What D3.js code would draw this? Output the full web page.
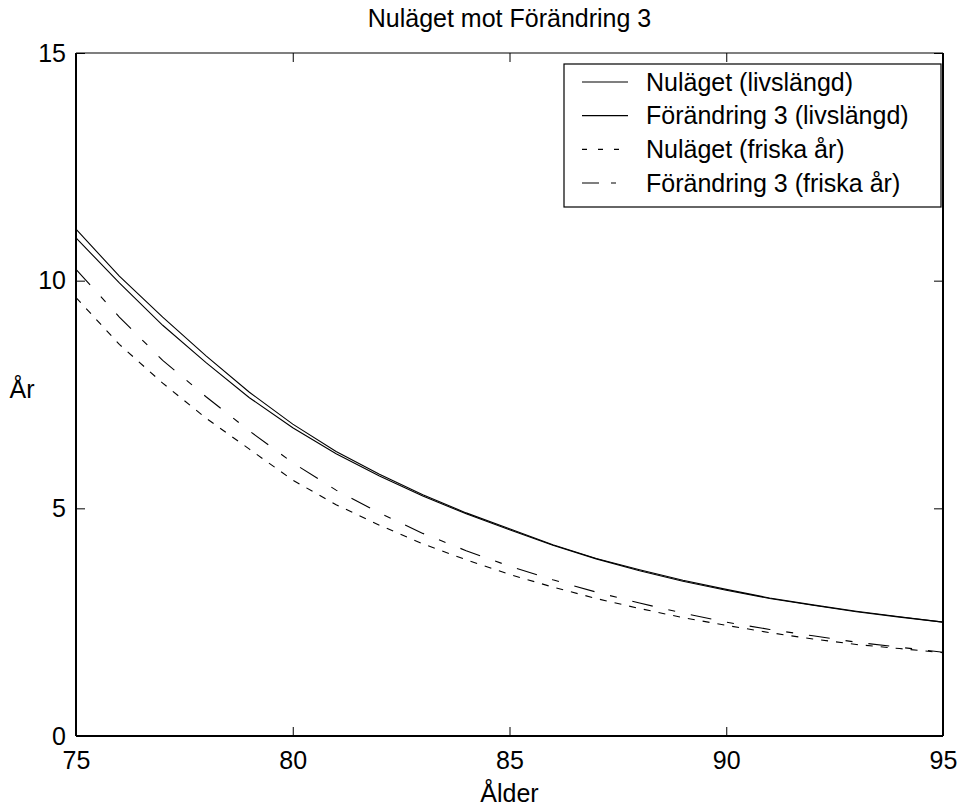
<!DOCTYPE html>
<html>
<head>
<meta charset="utf-8">
<script src="https://cdn.jsdelivr.net/npm/d3@7"></script>
<style>
  html, body { margin: 0; padding: 0; background: #fff; }
  svg { display: block; }
  text { font-family: "Liberation Sans", Arial, Helvetica, sans-serif; fill: #000; }
</style>
</head>
<body>
<div id="chart"></div>
<script>
const ages = [75,76,77,78,79,80,81,82,83,84,85,86,87,88,89,90,91,92,93,94,95];
const nulagetLiv = [11.13,10.10,9.20,8.35,7.55,6.85,6.25,5.75,5.30,4.90,4.55,4.20,3.90,3.65,3.42,3.22,3.03,2.88,2.74,2.62,2.50];
const forandringLiv = [10.94,9.95,9.02,8.20,7.43,6.77,6.20,5.71,5.27,4.88,4.53,4.19,3.89,3.63,3.40,3.20,3.02,2.87,2.73,2.61,2.50];
const nulagetFriska = [9.63,8.60,7.75,6.98,6.30,5.62,5.08,4.63,4.22,3.87,3.55,3.27,3.02,2.80,2.60,2.43,2.27,2.13,2.01,1.92,1.83];
const forandringFriska = [10.25,9.20,8.25,7.45,6.70,6.00,5.40,4.90,4.45,4.07,3.73,3.43,3.16,2.92,2.70,2.50,2.34,2.20,2.06,1.95,1.84];
const seriesNames = ["Nuläget (livslängd)","Förändring 3 (livslängd)","Nuläget (friska år)","Förändring 3 (friska år)"];
const xTicks = [75,80,85,90,95];
const yTicks = [0,5,10,15];
const titleText = "Nuläget mot Förändring 3";
const xLabel = "Ålder";
const yLabel = "År";

const W = 962, H = 807;
const m = {left: 76, right: 19, top: 53, bottom: 71};
const iw = W - m.left - m.right, ih = H - m.top - m.bottom;
const FS = 25;

const svg = d3.select("#chart").append("svg").attr("width", W).attr("height", H);
const g = svg.append("g").attr("transform", `translate(${m.left},${m.top})`);

const x = d3.scaleLinear().domain([75,95]).range([0, iw]);
const y = d3.scaleLinear().domain([0,15]).range([ih, 0]);

const dashes = [null, null, "7,8", "21,16,7,16"];
const data = [nulagetLiv, forandringLiv, nulagetFriska, forandringFriska];

const line = d3.line().x((d,i) => x(ages[i])).y(d => y(d));
data.forEach((s, k) => {
  g.append("path").datum(s).attr("d", line)
    .attr("fill", "none").attr("stroke", "#000").attr("stroke-width", 1.1)
    .attr("stroke-dasharray", dashes[k]);
});

// axes (inward ticks, box)
const tl = 9;
const ax = d3.axisBottom(x).tickValues(xTicks).tickSize(-tl).tickPadding(tl + 6).tickFormat(d3.format("d"));
const axT = d3.axisTop(x).tickValues(xTicks).tickSize(-tl).tickFormat("");
const ay = d3.axisLeft(y).tickValues(yTicks).tickSize(-tl).tickPadding(tl + 1).tickFormat(d3.format("d"));
const ayR = d3.axisRight(y).tickValues(yTicks).tickSize(-tl).tickFormat("");

function style(sel, sw) {
  sel.selectAll(".domain").attr("stroke", "#000").attr("stroke-width", sw);
  sel.selectAll(".tick line").attr("stroke", "#000").attr("stroke-width", 1);
  sel.selectAll(".tick text").attr("font-size", FS).attr("font-family", "Liberation Sans, Arial, sans-serif").attr("fill", "#000");
}
const gx = g.append("g").attr("transform", `translate(0,${ih})`).call(ax); style(gx, 2);
gx.selectAll(".domain").attr("d", `M0,0H${iw}`);
const gxt = g.append("g").call(axT); style(gxt, 1.2);
gxt.selectAll(".domain").attr("d", `M0,0H${iw}`);
const gy = g.append("g").call(ay); style(gy, 2);
gy.selectAll(".domain").attr("d", `M0,0V${ih}`);
const gyr = g.append("g").attr("transform", `translate(${iw},0)`).call(ayR); style(gyr, 2);
gyr.selectAll(".domain").attr("d", `M0,0V${ih}`);
gx.selectAll(".tick text").attr("dy", "0.71em");

// title and labels
svg.append("text").attr("x", m.left + iw/2).attr("y", 27).attr("text-anchor", "middle")
  .attr("font-size", FS).text(titleText);
svg.append("text").attr("x", m.left + iw/2).attr("y", 802).attr("text-anchor", "middle")
  .attr("font-size", FS).text(xLabel);
svg.append("text").attr("x", 22).attr("y", 398).attr("text-anchor", "middle")
  .attr("font-size", FS).text(yLabel);

// legend
const lg = svg.append("g");
const lx = 564, ly = 64, lw = 377, lh = 143;
lg.append("rect").attr("x", lx).attr("y", ly).attr("width", lw).attr("height", lh)
  .attr("fill", "#fff").attr("stroke", "#000").attr("stroke-width", 1.2);
const rowY = d3.scaleLinear().domain([0,3]).range([ly + 18, ly + 119]);
seriesNames.forEach((name, k) => {
  const yy = rowY(k);
  lg.append("line").attr("x1", lx + 18).attr("x2", lx + 64).attr("y1", yy).attr("y2", yy)
    .attr("stroke", "#000").attr("stroke-width", 1.1).attr("stroke-dasharray", k === 2 ? "5,11" : (k === 3 ? "17,12,5,12" : null));
  lg.append("text").attr("x", lx + 82).attr("y", yy).attr("dy", "0.35em")
    .attr("font-size", FS).text(name);
});
</script>
</body>
</html>
